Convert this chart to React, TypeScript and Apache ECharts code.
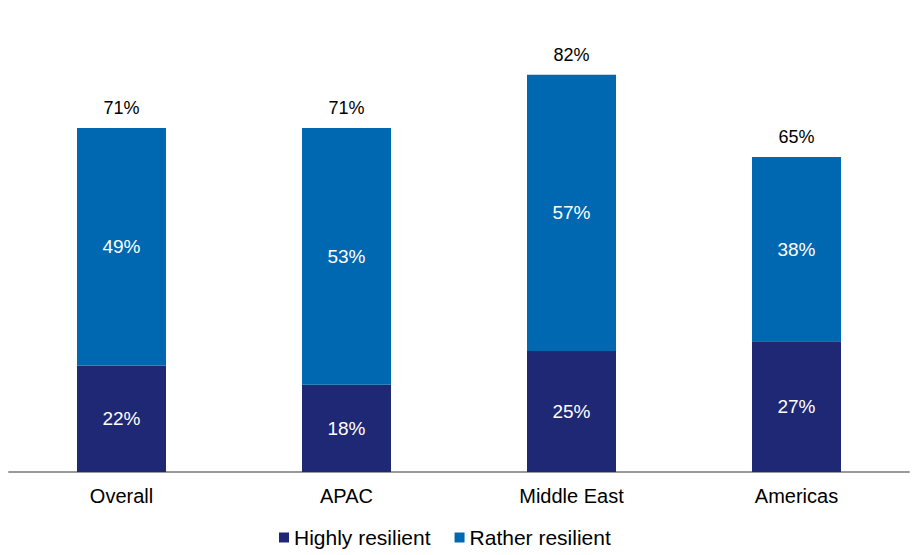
import React, { useEffect, useRef } from "react";
import * as echarts from "echarts";

const regions = ["Overall", "APAC", "Middle East", "Americas"];
const highlyResilient = [22, 18, 25, 27];
const ratherResilient = [49, 53, 57, 38];
const totals = [71, 71, 82, 65];

const NAVY = "#1F2874";
const BLUE = "#0068B0";

const App = () => {
  const chartRef = useRef<HTMLDivElement>(null);

  useEffect(() => {
    document.body.style.margin = "0";
    if (!chartRef.current) return;
    const chart = echarts.init(chartRef.current, null, { renderer: "svg" });

    const pct = (p: any) => `${p.value}%`;

    const option = {
      animation: false,
      textStyle: { fontFamily: "'Liberation Sans', Arial, sans-serif" },
      grid: { left: 9, right: 11, top: 36, bottom: 83 },
      legend: {
        data: ["Highly resilient", "Rather resilient"],
        left: 274,
        top: 522,
        icon: "rect",
        itemWidth: 10,
        itemHeight: 10,
        itemGap: 24,
        textStyle: { fontSize: 21, color: "#000" },
      },
      xAxis: {
        type: "category",
        data: regions,
        axisTick: { show: false },
        axisLine: { lineStyle: { color: "#999", width: 2 } },
        axisLabel: { fontSize: 20, color: "#000", margin: 14 },
      },
      yAxis: {
        type: "value",
        min: 0,
        max: 90,
        show: false,
        splitLine: { show: false },
      },
      series: [
        {
          name: "Highly resilient",
          type: "bar",
          stack: "total",
          barWidth: 89,
          data: highlyResilient,
          itemStyle: { color: NAVY },
          label: { show: true, position: "inside", color: "#fff", fontSize: 19, formatter: pct },
        },
        {
          name: "Rather resilient",
          type: "bar",
          stack: "total",
          barWidth: 89,
          data: ratherResilient,
          itemStyle: { color: BLUE },
          label: { show: true, position: "inside", color: "#fff", fontSize: 19, formatter: pct },
        },
        {
          name: "Total",
          type: "bar",
          stack: "total",
          barWidth: 89,
          data: totals.map(() => 0),
          itemStyle: { color: "transparent" },
          label: {
            show: true,
            position: "top",
            distance: 11,
            color: "#000",
            fontSize: 18,
            formatter: (p: any) => `${totals[p.dataIndex]}%`,
          },
        },
      ],
    };

    chart.setOption(option);
    return () => {
      chart.dispose();
    };
  }, []);

  return <div ref={chartRef} style={{ width: 920, height: 555 }} />;
};

export default App;
